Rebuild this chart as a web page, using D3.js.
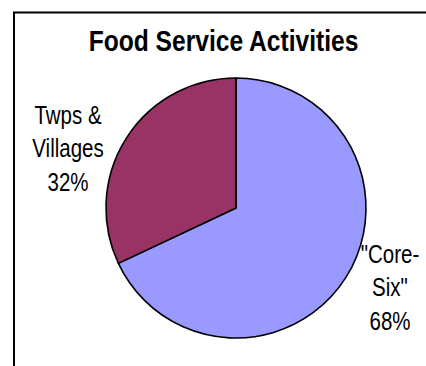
<!DOCTYPE html>
<html>
<head>
<meta charset="utf-8">
<script src="https://cdn.jsdelivr.net/npm/d3@7/dist/d3.min.js"></script>
<style>
  html, body { margin: 0; padding: 0; background: #fff; }
  svg { display: block; }
  text { font-family: "Liberation Sans", Arial, sans-serif; fill: #000; }
</style>
</head>
<body>
<svg id="chart" width="426" height="366"></svg>
<script>
// Share of food service activities
const categories = ["\"Core-Six\"", "Twps & Villages"];
const values = [68, 32];
const labelLines = [["\"Core-", "Six\"", "68%"], ["Twps &", "Villages", "32%"]];
const colors = ["#9999FF", "#993366"];
const title = "Food Service Activities";

// narrow face: horizontally condensed sans
const narrow = 0.82;

const svg = d3.select("#chart");

// chart area frame (runs off the right and bottom edges)
svg.append("rect")
  .attr("x", 14).attr("y", 12.5)
  .attr("width", 440).attr("height", 400)
  .attr("fill", "#fff")
  .attr("stroke", "#000").attr("stroke-width", 2);

svg.append("g")
  .attr("transform", `translate(223.5,51) scale(${narrow},1)`)
  .append("text")
  .attr("text-anchor", "middle")
  .attr("font-size", 30).attr("font-weight", "bold")
  .text(title);

const cx = 236, cy = 208, radius = 130;

const pie = d3.pie().sort(null).value(d => d.value);
const arc = d3.arc().innerRadius(0).outerRadius(radius);
const data = categories.map((c, i) => ({ category: c, value: values[i], color: colors[i], lines: labelLines[i] }));

const g = svg.append("g").attr("transform", `translate(${cx},${cy})`);
g.selectAll("path")
  .data(pie(data))
  .join("path")
  .attr("d", arc)
  .attr("fill", d => d.data.color)
  .attr("stroke", "#000")
  .attr("stroke-width", 1.6)
  .attr("stroke-linejoin", "round");

// data labels: category name over two lines, then the percentage
const labelPos = [{ x: 390, y: 263 }, { x: 68, y: 124 }];
const lineGap = 33.5;
data.forEach((d, i) => {
  const t = svg.append("g")
    .attr("transform", `translate(${labelPos[i].x},${labelPos[i].y}) scale(${narrow},1)`)
    .append("text")
    .attr("text-anchor", "middle")
    .attr("font-size", 25);
  d.lines.forEach((ln, k) => {
    t.append("tspan")
      .attr("x", 0)
      .attr("y", k * lineGap)
      .text(ln);
  });
});
</script>
</body>
</html>
